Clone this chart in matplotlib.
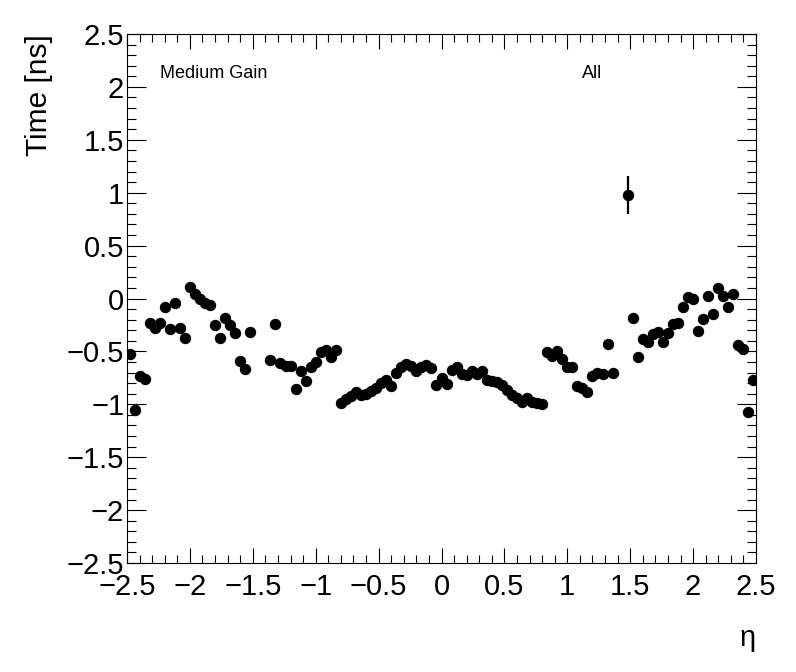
import numpy as np
import matplotlib
matplotlib.use("Agg")
import matplotlib.pyplot as plt
from matplotlib.ticker import MultipleLocator

nan = np.nan
# 125 bins in eta from -2.5 to 2.5
eta_edges = np.linspace(-2.5, 2.5, 126)
eta = 0.5 * (eta_edges[:-1] + eta_edges[1:])

time_ns = [
    -0.52, -1.05, -0.73, -0.76, -0.235, -0.275, -0.235, -0.08, -0.29, -0.04,
    -0.28, -0.37, 0.11, 0.04, 0.00, -0.04, -0.06, -0.25, -0.37, -0.18,
    -0.25, -0.33, -0.59, -0.67, -0.32, nan, nan, nan, -0.58, -0.24,
    -0.61, -0.64, -0.64, -0.855, -0.685, -0.78, -0.65, -0.60, -0.51, -0.49,
    -0.55, -0.49, -0.985, -0.95, -0.925, -0.885, -0.91, -0.905, -0.87, -0.85,
    -0.795, -0.77, -0.83, -0.70, -0.65, -0.615, -0.64, -0.685, -0.645, -0.625,
    -0.66, -0.82, -0.755, -0.81, -0.675, -0.645, -0.715, -0.72, -0.685, -0.715,
    -0.685, -0.77, -0.78, -0.79, -0.82, -0.865, -0.91, -0.945, -0.975, -0.94,
    -0.975, -0.99, -1.0, -0.51, -0.54, -0.50, -0.575, -0.65, -0.65, -0.83,
    -0.85, -0.88, -0.73, -0.70, -0.71, -0.43, -0.70, nan, nan, 0.975,
    -0.18, -0.555, -0.385, -0.41, -0.335, -0.32, -0.415, -0.33, -0.245, -0.235,
    -0.083, 0.01, -0.005, -0.31, -0.195, 0.02, -0.15, 0.095, 0.02, -0.083,
    0.04, -0.44, -0.48, -1.07, -0.775,
]
time_err = [0.01] * 125
time_err[99] = 0.18

plt.rcParams['font.family'] = ['Liberation Sans', 'DejaVu Sans']

fig = plt.figure(figsize=(7.96, 6.72), dpi=100)
ax = fig.add_axes([127/796, 1 - 563/672, 629/796, 529/672])

ax.errorbar(eta, time_ns, yerr=time_err, fmt='o', color='black',
            markersize=7.2, elinewidth=1.6, capsize=0)

ax.set_xlim(-2.5, 2.5)
ax.set_ylim(-2.5, 2.5)
ax.xaxis.set_minor_locator(MultipleLocator(0.1))
ax.yaxis.set_minor_locator(MultipleLocator(0.1))
tick_vals = np.arange(-2.5, 2.51, 0.5)
tick_labels = ['\u22122.5', '\u22122', '\u22121.5', '\u22121', '\u22120.5', '0',
               '0.5', '1', '1.5', '2', '2.5']
ax.set_xticks(tick_vals)
ax.set_xticklabels(tick_labels)
ax.set_yticks(tick_vals)
ax.set_yticklabels(tick_labels)

ax.tick_params(axis='both', which='both', direction='in', top=True, right=True,
               labelsize=21, width=0.8)
ax.tick_params(axis='x', which='major', length=11, pad=7)
ax.tick_params(axis='x', which='minor', length=5.5)
ax.tick_params(axis='y', which='major', length=13.5, pad=2)
ax.tick_params(axis='y', which='minor', length=6.8)
for sp in ax.spines.values():
    sp.set_linewidth(0.8)

ax.set_ylabel('Time [ns]', fontsize=21.5, loc='top', labelpad=10)
ax.set_xlabel('\u03b7', fontsize=21, loc='right', labelpad=17)

ax.text(0.0525, 0.926, 'Medium Gain', transform=ax.transAxes, fontsize=13,
        va='center', ha='left')
ax.text(0.7234, 0.926, 'All', transform=ax.transAxes, fontsize=13,
        va='center', ha='left')

fig.savefig('out.png', dpi=100)
